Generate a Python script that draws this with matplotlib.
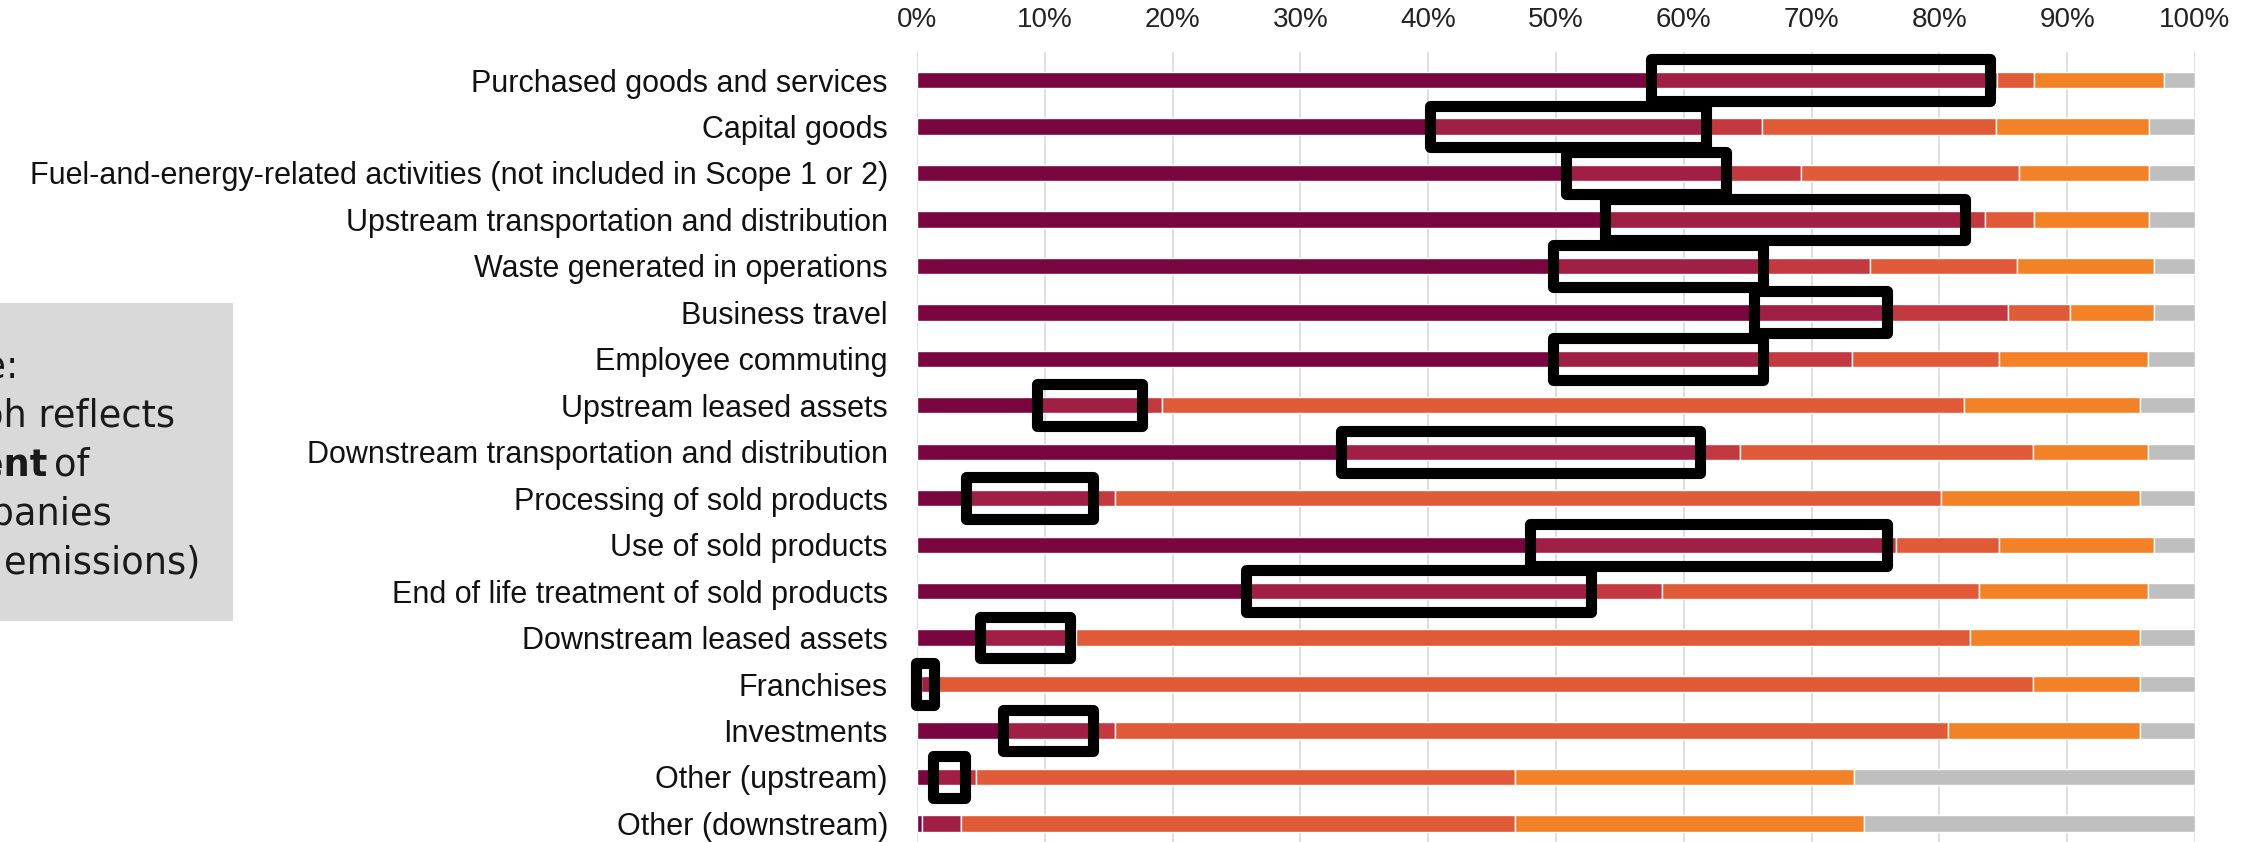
import matplotlib
matplotlib.use("Agg")
import matplotlib.pyplot as plt
import matplotlib.patches as patches
import numpy as np

# ------------------------------------------------------------
# Data (percent of companies, per Scope 3 category)
# ------------------------------------------------------------
categories = [
    "Purchased goods and services",
    "Capital goods",
    "Fuel-and-energy-related activities (not included in Scope 1 or 2)",
    "Upstream transportation and distribution",
    "Waste generated in operations",
    "Business travel",
    "Employee commuting",
    "Upstream leased assets",
    "Downstream transportation and distribution",
    "Processing of sold products",
    "Use of sold products",
    "End of life treatment of sold products",
    "Downstream leased assets",
    "Franchises",
    "Investments",
    "Other (upstream)",
    "Other (downstream)",
]

seg1 = [57.4, 40.1, 50.8, 53.8, 49.8, 65.5, 49.8, 9.4, 33.2, 3.8, 48.0, 25.7, 4.9, 0.3, 6.5, 1.4, 0.35]
seg2 = [26.6, 21.6, 12.5, 28.2, 16.4, 10.4, 16.4, 8.2, 28.1, 10.0, 27.9, 27.0, 7.5, 1.3, 7.3, 2.4, 3.05]
seg3 = [0.5, 4.4, 5.9, 1.6, 8.4, 9.5, 7.0, 1.6, 3.1, 1.7, 0.7, 5.6, 0.0, 0.0, 1.7, 0.8, 0.0]
seg4 = [2.9, 18.3, 17.0, 3.8, 11.5, 4.8, 11.5, 62.7, 22.9, 64.6, 8.1, 24.8, 70.0, 85.7, 65.2, 42.2, 43.4]
seg5 = [10.2, 12.0, 10.2, 9.0, 10.7, 6.6, 11.6, 13.8, 9.0, 15.6, 12.1, 13.2, 13.3, 8.4, 15.0, 26.5, 27.3]
seg6 = [2.4, 3.6, 3.6, 3.6, 3.2, 3.2, 3.7, 4.3, 3.7, 4.3, 3.2, 3.7, 4.3, 4.3, 4.3, 26.7, 25.9]

# highlighted ranges (black frames); None = no frame
box_start = [57.4, 40.1, 50.8, 53.8, 49.8, 65.5, 49.8, 9.4, 33.2, 3.8, 48.0, 25.7, 4.9, -0.1, 6.7, 1.25, None]
box_end = [84.0, 61.7, 63.3, 82.0, 66.2, 75.9, 66.2, 17.6, 61.3, 13.8, 75.9, 52.7, 12.0, 1.3, 13.8, 3.75, None]

xticks = list(range(0, 101, 10))
xtick_labels = [f"{t}%" for t in xticks]

COLORS = ['#7A0640', '#A11F45', '#C4393F', '#E05A37', '#F38126', '#BFBFBF']

fig = plt.figure(figsize=(22.6, 8.42), dpi=100)
ax = fig.add_axes([0.4058, 0.0, 0.5654, 0.938])

y = np.arange(len(categories))
left = np.zeros(len(categories))
for vals, col in zip([seg1, seg2, seg3, seg4, seg5, seg6], COLORS):
    vals = np.array(vals)
    ax.barh(y, vals, left=left, height=0.35, color=col,
            edgecolor='white', linewidth=1, zorder=2)
    left += vals

# black frames
for i, (b0, b1) in enumerate(zip(box_start, box_end)):
    if b0 is None:
        continue
    rect = patches.Rectangle((b0, i - 0.45), b1 - b0, 0.9, fill=False,
                             edgecolor='black', linewidth=8,
                             joinstyle='round', zorder=4, clip_on=False)
    ax.add_patch(rect)

ax.set_xlim(0, 100)
ax.set_ylim(16.4, -0.6)
ax.set_yticks(y)
ax.set_yticklabels(categories, fontsize=22, family='Liberation Sans', color='#111111')
ax.set_xticks(xticks)
ax.set_xticklabels(xtick_labels, fontsize=20, family='Liberation Sans', color='#222222')
ax.xaxis.tick_top()
ax.tick_params(axis='x', length=0, pad=14)
ax.tick_params(axis='y', length=0, pad=21)
ax.grid(True, axis='x', color='#D9D9D9', linewidth=1.2, zorder=0)
ax.set_axisbelow(True)
for s in ax.spines.values():
    s.set_visible(False)

# note box on the left (cut off by the figure edge)
fig.patches.append(patches.Rectangle((0, 0.2625), 0.1031, 0.3775,
                                     transform=fig.transFigure,
                                     facecolor='#D9D9D9', edgecolor='none',
                                     zorder=0))
W, H = 2260, 842
note_kw = dict(fontsize=26.5, family='DejaVu Sans', color='#1a1a1a',
               va='baseline')
fig.text(19 / W, 1 - 377 / H, "Note:", ha='right', **note_kw)
fig.text(175 / W, 1 - 427 / H, "graph reflects", ha='right', **note_kw)
fig.text(48 / W, 1 - 476 / H, "percent", ha='right', fontweight='bold', **note_kw)
fig.text(54 / W, 1 - 476 / H, "of", ha='left', **note_kw)
fig.text(112 / W, 1 - 525 / H, "companies", ha='right', **note_kw)
fig.text(200 / W, 1 - 574 / H, "(not emissions)", ha='right', **note_kw)

plt.savefig("out.png", dpi=100)
